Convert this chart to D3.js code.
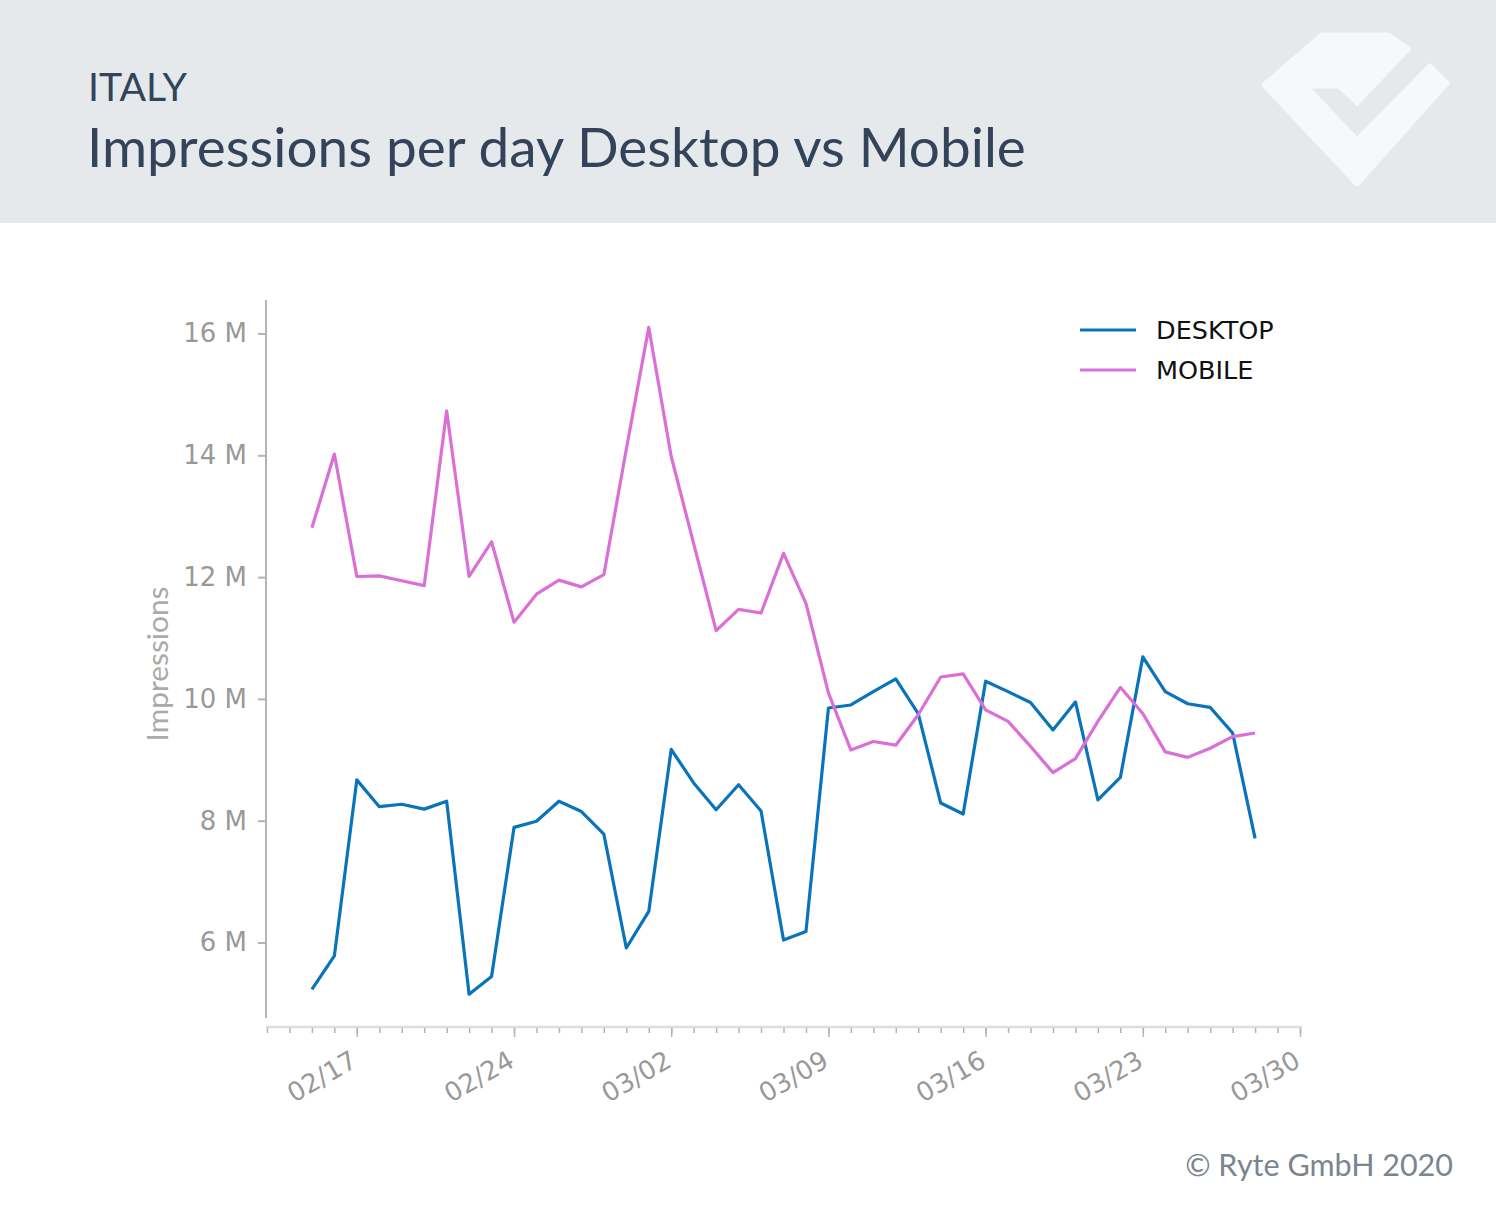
<!DOCTYPE html>
<html><head><meta charset="utf-8">
<script src="https://cdn.jsdelivr.net/npm/d3@7"></script>
<style>
html,body{margin:0;padding:0;background:#fff;}
svg{display:block;}
</style></head>
<body>
<svg id="chart" width="1496" height="1205"></svg>
<script>
// ---- data ----
const startDate = "2020-02-15";
const desktop = [5.23, 5.78, 8.67, 8.23, 8.27, 8.19, 8.32, 5.15, 5.44, 7.89,
  7.99, 8.32, 8.15, 7.78, 5.91, 6.51, 9.17, 8.62, 8.18, 8.59,
  8.16, 6.04, 6.18, 9.85, 9.90, 10.12, 10.33, 9.76, 8.29, 8.11,
  10.29, 10.12, 9.94, 9.49, 9.95, 8.34, 8.71, 10.69, 10.12, 9.92,
  9.86, 9.44, 7.71];
const mobile = [12.81, 14.02, 12.01, 12.02, 11.94, 11.86, 14.73, 12.01, 12.58, 11.26,
  11.72, 11.95, 11.84, 12.04, 14.1, 16.1, 13.98, 12.55, 11.12, 11.47,
  11.41, 12.39, 11.57, 10.10, 9.16, 9.30, 9.24, 9.74, 10.36, 10.41,
  9.82, 9.63, 9.22, 8.79, 9.02, 9.63, 10.19, 9.76, 9.13, 9.04,
  9.19, 9.38, 9.44];
const seriesNames = ["DESKTOP", "MOBILE"];
const yTicks = [6, 8, 10, 12, 14, 16];
const xTickLabels = ["02/17", "02/24", "03/02", "03/09", "03/16", "03/23", "03/30"];
const subtitle = "ITALY";
const title = "Impressions per day Desktop vs Mobile";
const yLabel = "Impressions";
const credit = "© Ryte GmbH 2020";

// ---- setup ----
const svg = d3.select("#chart");
const parse = d3.utcParse("%Y-%m-%d");
const d0 = parse(startDate);
const dates = desktop.map((_, i) => d3.utcDay.offset(d0, i));
const colors = ["#0a74ba", "#da70d6"];
const uiFont = "Lato, 'Open Sans', sans-serif";
const tickFont = "'DejaVu Sans', Verdana, sans-serif";

function fitWidth(sel, base, target) {
  const w = sel.node().getComputedTextLength();
  sel.attr("font-size", base * target / w);
}

// header
svg.append("rect").attr("x",0).attr("y",0).attr("width",1496).attr("height",223).attr("fill","#e6e9ec");
const st = svg.append("text").attr("x",88).attr("y",101).attr("fill","#33445a")
  .attr("font-family",uiFont).attr("font-size",39).text(subtitle);
fitWidth(st, 39, 99);
const tt = svg.append("text").attr("x",87).attr("y",167).attr("fill","#33445a")
  .attr("font-family",uiFont).attr("font-size",52).text(title);
fitWidth(tt, 52, 939);

// logo
svg.append("path")
  .attr("d", "M1322,35 L1389,35 L1408,49 L1357,103 L1339,86 L1306,86 L1357,140 L1430,66 L1447,83 L1357,184 L1264,85 Z")
  .attr("fill","#f7f8fa").attr("stroke","#f7f8fa").attr("stroke-width",5).attr("stroke-linejoin","round");

// scales
const x = d3.scaleUtc().domain([parse("2020-02-13"), parse("2020-03-30")]).range([267, 1300]);
const yPx16 = 333.5, pxPerM = 60.9;
const y = d3.scaleLinear()
  .domain([16 - (1018 - yPx16) / pxPerM, 16 + (yPx16 - 300) / pxPerM])
  .range([1018, 300]);

const axisColor = "#b4b4b4";
const tickTextColor = "#999999";

// y axis
const gy = svg.append("g").attr("transform","translate(266,0)")
  .call(d3.axisLeft(y).tickValues(yTicks).tickFormat(d => d + " M").tickSize(8).tickPadding(11));
gy.select(".domain").attr("stroke",axisColor).attr("stroke-width",2).attr("d","M0,300V1018");
gy.selectAll(".tick line").attr("stroke",axisColor).attr("stroke-width",2);
gy.selectAll(".tick text").attr("fill",tickTextColor).attr("font-family",tickFont).attr("font-size",26);

// x axis: daily minor ticks, weekly major ticks
const allDays = d3.utcDay.range(x.domain()[0], d3.utcDay.offset(x.domain()[1],1));
const majorDays = xTickLabels.map(s => parse("2020-" + s.replace("/","-")));
svg.append("path").attr("d","M266,1027H1302").attr("stroke","#dddddd").attr("stroke-width",2.5);
const gxMinor = svg.append("g").attr("transform","translate(0,1028)")
  .call(d3.axisBottom(x).tickValues(allDays).tickSize(5).tickFormat(""));
gxMinor.select(".domain").remove();
gxMinor.selectAll(".tick line").attr("stroke",axisColor).attr("stroke-width",1.5);
const gxMajor = svg.append("g").attr("transform","translate(0,1028)")
  .call(d3.axisBottom(x).tickValues(majorDays).tickSize(9).tickFormat((d,i) => xTickLabels[i]));
gxMajor.select(".domain").remove();
gxMajor.selectAll(".tick line").attr("stroke",axisColor).attr("stroke-width",1.5);
gxMajor.selectAll(".tick text")
  .attr("fill",tickTextColor).attr("font-family",tickFont).attr("font-size",26)
  .attr("text-anchor","end").attr("dy",0).attr("y",0)
  .attr("transform","translate(1.5,37.5) rotate(-30)");

// y label
const yl = svg.append("text").attr("transform","translate(168,664) rotate(-90)")
  .attr("text-anchor","middle").attr("fill","#aaaaaa")
  .attr("font-family",uiFont).attr("font-size",25).text(yLabel);
fitWidth(yl, 25, 155);

// lines
const line = d3.line().x((d,i) => x(dates[i])).y(d => y(d));
[desktop, mobile].forEach((s, k) => {
  svg.append("path").datum(s).attr("d", line)
    .attr("fill","none").attr("stroke",colors[k]).attr("stroke-width",3.2)
    .attr("stroke-linejoin","round");
});

// legend
seriesNames.forEach((n, k) => {
  const yy = 330 + k * 40;
  svg.append("line").attr("x1",1080).attr("x2",1136).attr("y1",yy).attr("y2",yy)
    .attr("stroke",colors[k]).attr("stroke-width",3.2);
  svg.append("text").attr("x",1156).attr("y",yy + 9).attr("fill","#111")
    .attr("font-family",tickFont).attr("font-size",25.5).text(n);
});

// credit
const cr = svg.append("text").attr("x",1453).attr("y",1176).attr("text-anchor","end").attr("fill","#7b8591")
  .attr("font-family",uiFont).attr("font-size",29).text(credit);
fitWidth(cr, 29, 268);
</script>
</body></html>
